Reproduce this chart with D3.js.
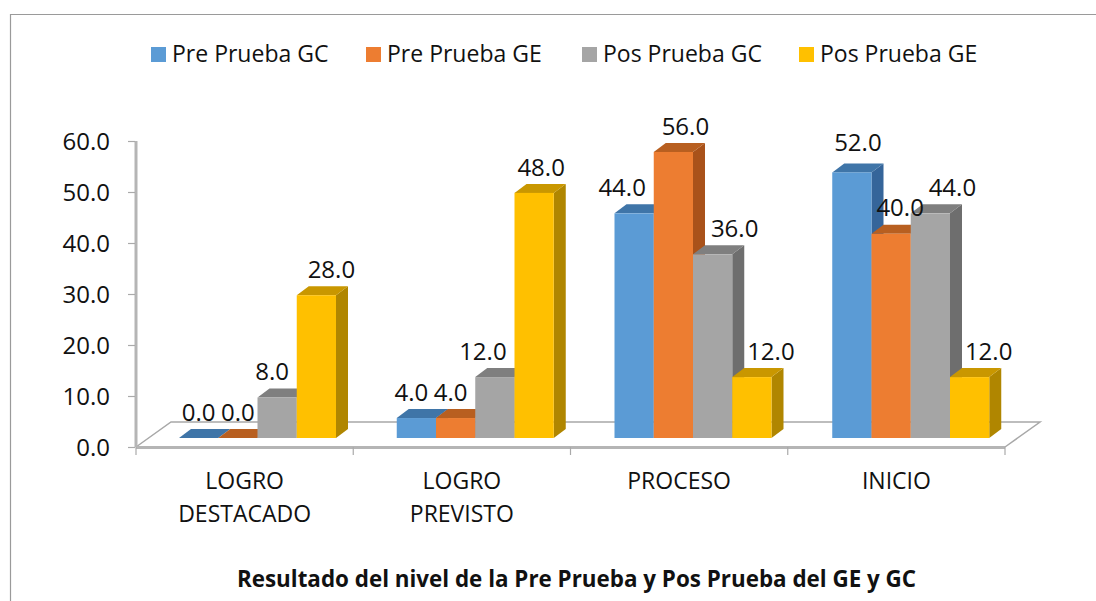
<!DOCTYPE html>
<html><head><meta charset="utf-8">
<script src="https://cdn.jsdelivr.net/npm/d3@7/dist/d3.min.js"></script>
<style>html,body{margin:0;padding:0;background:#fff}svg{display:block}text{font-family:"Open Sans",sans-serif;fill:#111}</style>
</head><body><svg id="c" width="1096" height="601"></svg>
<script>
const categories=[["LOGRO","DESTACADO"],["LOGRO","PREVISTO"],["PROCESO"],["INICIO"]];
const seriesNames=["Pre Prueba GC","Pre Prueba GE","Pos Prueba GC","Pos Prueba GE"];
const preGC=[0,4,44,52];
const preGE=[0,4,56,40];
const posGC=[8,12,36,44];
const posGE=[28,48,12,12];
const yTicks=[0,10,20,30,40,50,60];
const title="Resultado del nivel de la Pre Prueba y Pos Prueba del GE y GC";
const front=["#5b9bd5","#ed7d31","#a5a5a5","#ffc000"];
const topC=["#3f75a8","#b85f20","#7f7f7f","#c99700"];
const sideC=["#35659a","#a9521a","#6e6e6e","#b08600"];
const seriesVals=[preGC,preGE,posGC,posGE];
const labelNudge=[[[0,0],[0,0],[-5,0],[15,0]],[[-5,0],[-5,0],[-12,0],[7,0]],[[-12,0],[12,0],[22,0],[19,0]],[[6,-4],[9,0],[22,0],[19,0]]];

const svg=d3.select("#c");
const gr="#b5b5b5";
svg.append("path").attr("d","M10.5,601V14.5H1096").attr("fill","none").attr("stroke","#9a9a9a").attr("stroke-width",1.2);

const x0=d3.scaleBand().domain(d3.range(4)).range([136,1005]);
const xBars=d3.scaleBand().domain(d3.range(4)).range([136,1007]);
const xs=d3.scaleBand().domain(d3.range(4)).range([0,157]);
const y=d3.scaleLinear().domain([0,60]).range([447,141]);
const yBar=d3.scaleLinear().domain([0,60]).range([438.5,131.5]);
const barBottom=438,dx=12,dy=9,fx=35,fy=25,inset=43;

// floor
svg.append("path").attr("d",`M136,447 L${136+fx},${447-fy} H${1005+fx} L1005,447`).attr("fill","none").attr("stroke","#a8a8a8").attr("stroke-width",1.5);
svg.append("line").attr("x1",136).attr("x2",1005).attr("y1",447.5).attr("y2",447.5).attr("stroke",gr).attr("stroke-width",3);
svg.append("line").attr("x1",136).attr("x2",136).attr("y1",y(60)).attr("y2",447).attr("stroke",gr).attr("stroke-width",3);
// axes
const yAxis=svg.append("g").attr("transform","translate(135,0)").call(d3.axisLeft(y).tickValues(yTicks).tickFormat(d3.format(".1f")).tickSize(7).tickPadding(18));
yAxis.select(".domain").remove();
yAxis.selectAll("line").attr("stroke","#aaa").attr("stroke-width",1.2);
yAxis.selectAll("text").attr("font-size",24).attr("fill","#111").attr("dy","0.36em");
svg.selectAll(".xt").data(d3.range(5)).join("line").attr("class","xt")
 .attr("x1",i=>136+i*x0.step()).attr("x2",i=>136+i*x0.step()).attr("y1",447).attr("y2",455).attr("stroke","#aaa").attr("stroke-width",1.2);

// bars
seriesVals.forEach((vals,s)=>{
  vals.forEach((v,c)=>{
    const bx=xBars(c)+inset+xs(s),w=xs.bandwidth(),by=barBottom,ty=Math.min(yBar(v),by);
    const g=svg.append("g");
    g.append("path").attr("d",`M${bx+w},${ty}l${dx},${-dy}V${by-dy}L${bx+w},${by}Z`).attr("fill",sideC[s]);
    g.append("path").attr("d",`M${bx},${ty}l${dx},${-dy}h${w}l${-dx},${dy}Z`).attr("fill",topC[s]);
    g.append("rect").attr("x",bx).attr("y",ty).attr("width",w).attr("height",by-ty).attr("fill",front[s]);
  });
});
// labels
seriesVals.forEach((vals,s)=>{
  vals.forEach((v,c)=>{
    const bx=xBars(c)+inset+xs(s),w=xs.bandwidth(),ty=yBar(v);
    svg.append("text").attr("x",bx+w/2+labelNudge[c][s][0]).attr("y",ty-26+labelNudge[c][s][1]).attr("dy","0.36em")
      .attr("text-anchor","middle").attr("font-size",24).text(d3.format(".1f")(v));
  });
});
// categories
categories.forEach((lines,c)=>{
  lines.forEach((t,i)=>{
    svg.append("text").attr("x",x0(c)+x0.step()/2).attr("y",489+i*32.5).attr("text-anchor","middle").attr("font-size",23).text(t);
  });
});
// legend
const legX=[151,366,582,799];
seriesNames.forEach((n,i)=>{
  svg.append("rect").attr("x",legX[i]).attr("y",47).attr("width",15).attr("height",15).attr("fill",front[i]);
  svg.append("text").attr("x",legX[i]+21).attr("y",62).attr("font-size",23).text(n);
});
svg.append("text").attr("x",576.5).attr("y",587).attr("text-anchor","middle").attr("font-size",22.4).attr("font-weight",700).text(title);
</script></body></html>
